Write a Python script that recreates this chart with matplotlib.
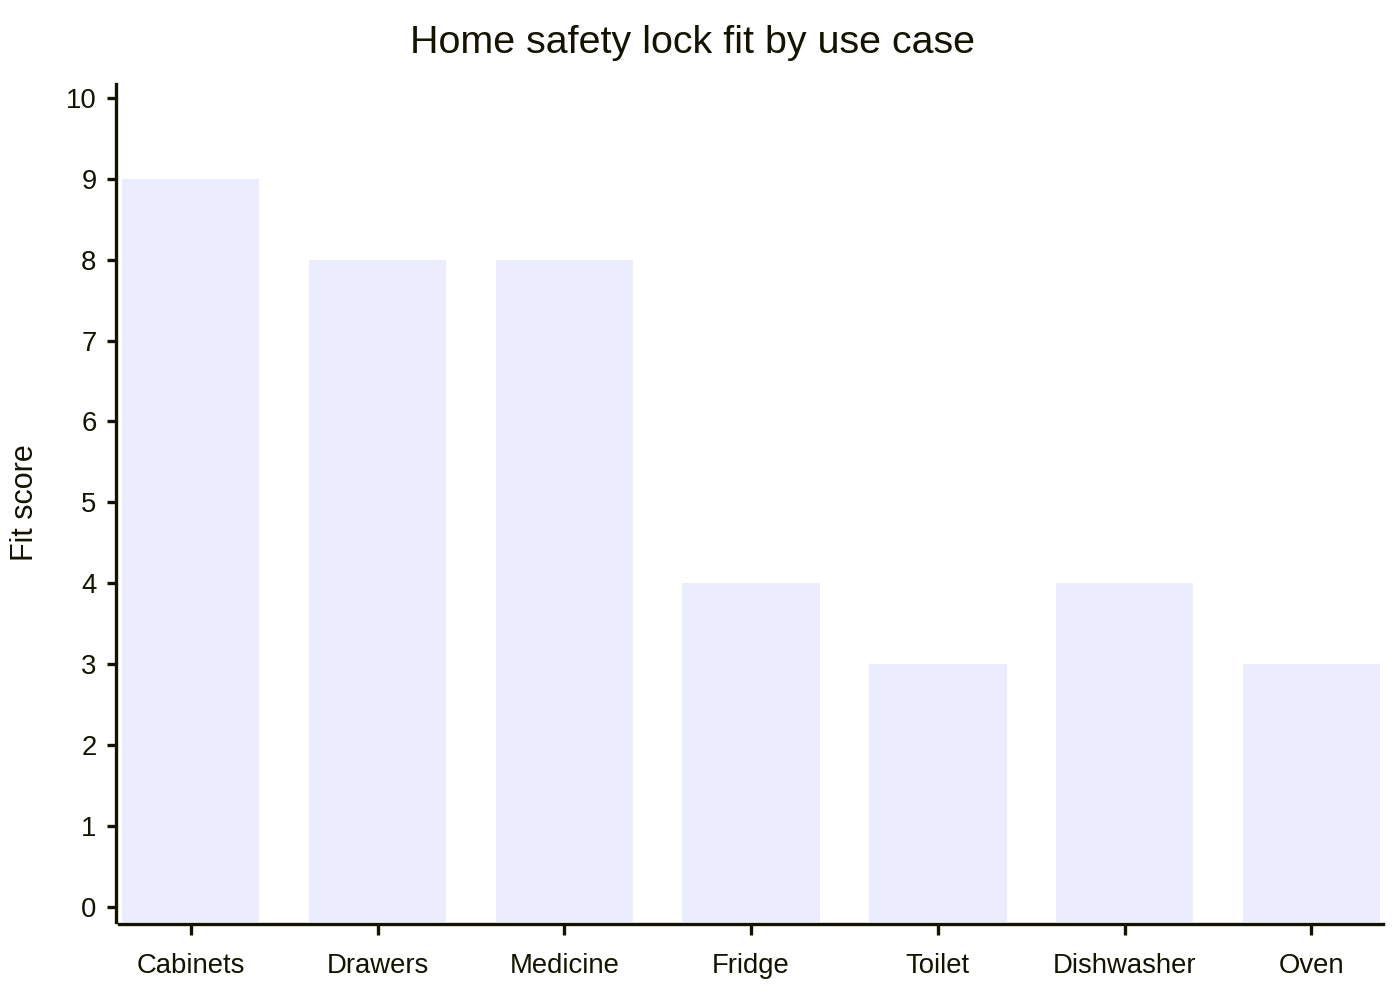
import matplotlib
matplotlib.use("Agg")
import matplotlib.pyplot as plt

categories = ["Cabinets", "Drawers", "Medicine", "Fridge", "Toilet", "Dishwasher", "Oven"]
fit_scores = [9, 8, 8, 4, 3, 4, 3]
y_ticks = [0, 1, 2, 3, 4, 5, 6, 7, 8, 9, 10]

TEXT = "#131300"
BAR = "#ECECFF"
plt.rcParams["font.family"] = ["Liberation Sans", "DejaVu Sans"]

fig = plt.figure(figsize=(14, 10), dpi=100)
ax = fig.add_axes([119/1400, 1-922/1000, (1383-119)/1400, (922-84)/1000])

ymin, ymax = -0.185, 10.17
x = list(range(len(categories)))
ax.bar(x, [v - ymin for v in fit_scores], bottom=ymin, width=0.735, color=BAR, edgecolor="none")

ax.set_xlim(-0.384, 6.383)
ax.set_ylim(ymin, ymax)
ax.set_xticks(x)
ax.set_xticklabels(categories)
ax.set_yticks(y_ticks)
ax.set_yticklabels([str(t) for t in y_ticks])

for s in ["top", "right"]:
    ax.spines[s].set_visible(False)
ax.spines["left"].set_position(("outward", 2.2))
ax.spines["bottom"].set_position(("outward", 1.5))
for s in ["left", "bottom"]:
    ax.spines[s].set_color(TEXT)
    ax.spines[s].set_linewidth(2.4)

ax.tick_params(axis="y", length=6.5, width=2.4, color=TEXT, labelcolor=TEXT, labelsize=19.8, pad=7.5)
ax.tick_params(axis="x", length=8, width=2.4, color=TEXT, labelcolor=TEXT, labelsize=19.8, pad=13)

fig.text(692/1400, 1-43/1000, "Home safety lock fit by use case", ha="center", va="center",
         fontsize=28.4, color=TEXT)
fig.text(25/1400, 1-503/1000, "Fit score", ha="center", va="center", rotation=90,
         fontsize=22, color=TEXT)

fig.savefig("out.png", dpi=100, facecolor="white")
